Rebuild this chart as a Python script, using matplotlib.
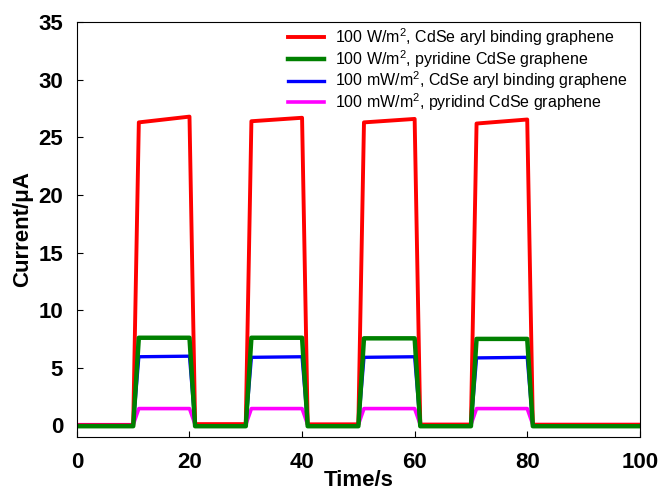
import matplotlib
matplotlib.use("Agg")
import matplotlib.pyplot as plt
import numpy as np

plt.rcParams["font.family"] = ["Liberation Sans", "DejaVu Sans"]
plt.rcParams["mathtext.fontset"] = "custom"
plt.rcParams["mathtext.rm"] = "Liberation Sans"

# time axis, one sample per second
time_s = np.arange(0, 101, 1)

# light on for t = 11..20, 31..40, 51..60, 71..80
on_starts = [11, 31, 51, 71]

# plateau values (start, end) per cycle, in uA
red_on = [(26.3, 26.8), (26.4, 26.7), (26.3, 26.6), (26.2, 26.55)]
green_on = [(7.6, 7.6), (7.6, 7.6), (7.55, 7.55), (7.5, 7.5)]
blue_on = [(5.95, 6.0), (5.9, 5.95), (5.9, 5.95), (5.85, 5.9)]
magenta_on = [(1.45, 1.45), (1.45, 1.45), (1.45, 1.45), (1.45, 1.45)]

red_off = [0.0, 0.1, 0.08, 0.06, 0.05]
green_off = [-0.08, -0.08, -0.08, -0.08, -0.08]
blue_off = [0.0, 0.0, 0.0, 0.0, 0.0]
magenta_off = [0.05, 0.05, 0.05, 0.05, 0.05]

labels = [
    r"100 W/m$^2$, CdSe aryl binding graphene",
    r"100 W/m$^2$, pyridine CdSe graphene",
    r"100 mW/m$^2$, CdSe aryl binding graphene",
    r"100 mW/m$^2$, pyridind CdSe graphene",
]


def build_trace(on_levels, off_levels):
    y = np.empty(len(time_s))
    for i, t in enumerate(time_s):
        y[i] = off_levels[0]
        for k, s in enumerate(on_starts):
            if s <= t <= s + 9:
                a, b = on_levels[k]
                y[i] = a + (b - a) * (t - s) / 9
            elif t > s + 9:
                y[i] = off_levels[k + 1]
    return y


red = build_trace(red_on, red_off)
green = build_trace(green_on, green_off)
blue = build_trace(blue_on, blue_off)
magenta = build_trace(magenta_on, magenta_off)

fig = plt.figure(figsize=(6.63, 4.93), dpi=100)
ax = fig.add_axes([0.116, 0.114, 0.849, 0.841])

h_m, = ax.plot(time_s, magenta, color="#ff00ff", lw=2.6)
h_b, = ax.plot(time_s, blue, color="#0000ff", lw=2.4)
h_r, = ax.plot(time_s, red, color="#ff0000", lw=2.8)
h_g, = ax.plot(time_s, green, color="#008000", lw=3.2)

ax.set_xlim(0, 100)
ax.set_ylim(-1, 35)
ax.set_xticks(np.arange(0, 101, 20))
ax.set_yticks(np.arange(0, 36, 5))
ax.tick_params(direction="in", length=4, labelsize=16)
ax.tick_params(axis="x", pad=11)
ax.tick_params(axis="y", pad=10)
for lab in ax.get_xticklabels() + ax.get_yticklabels():
    lab.set_fontweight("bold")
ax.set_xlabel("Time/s", fontsize=16, fontweight="bold", labelpad=-2)
ax.set_ylabel("Current/\u03bcA", fontsize=16, fontweight="bold", labelpad=4)

ax.legend([h_r, h_g, h_b, h_m], labels, loc="upper right", frameon=False,
          fontsize=11.5, handlelength=2.2, labelspacing=0.0,
          borderaxespad=0.0, borderpad=0.25, handletextpad=0.7,
          bbox_to_anchor=(0.985, 1.0))

fig.savefig("out.png", dpi=100)
